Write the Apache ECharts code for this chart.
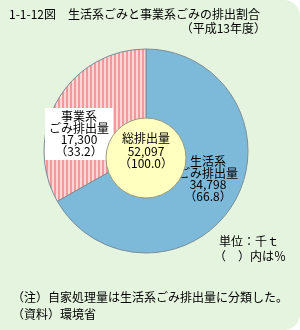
<!DOCTYPE html>
<html><head><meta charset="utf-8">
<script src="https://cdn.jsdelivr.net/npm/echarts@6/dist/echarts.min.js"></script>
<style>html,body{margin:0;padding:0;background:#fff}#c{width:300px;height:330px}</style>
</head><body><div id="c"></div>
<script>
const names = ['生活系', '事業系'];
const values = [34798, 17300];
const shares = ['66.8', '33.2'];
const totalName = '総排出量';
const totalValue = 52097;
const totalShare = '100.0';

const F = '"Noto Sans CJK JP", sans-serif';
const fmt = v => v.toLocaleString('en-US');

const cv = document.createElement('canvas');
cv.width = 4; cv.height = 4;
const cx = cv.getContext('2d');
cx.fillStyle = '#ffd6d6'; cx.fillRect(0,0,4,4);
cx.fillStyle = '#f29a9a'; cx.fillRect(2,0,2,4);

const chart = echarts.init(document.getElementById('c'), null, {renderer:'canvas'});
const labelPos = [[208, 179], [79, 134]];
chart.setOption({
  animation: false,
  graphic: [
    {type:'rect', z:-10, shape:{x:0,y:0,width:300,height:330,r:[0,16,16,0]}, style:{fill:'#e5f4de'}},
    {type:'text', left:9, top:8, style:{text:'1-1-12図　生活系ごみと事業系ごみの排出割合', font:'12px '+F, fill:'#000'}},
    {type:'text', right:34, top:22, style:{text:'（平成13年度）', font:'12px '+F, fill:'#000'}},
    {type:'text', left:219, top:235, style:{text:'単位：千ｔ', font:'12px '+F, fill:'#000'}},
    {type:'text', left:214, top:250, style:{text:'（　）内は％', font:'12px '+F, fill:'#000'}},
    {type:'text', left:12, top:291, style:{text:'（注）自家処理量は生活系ごみ排出量に分類した。', font:'12px '+F, fill:'#000'}},
    {type:'text', left:12, top:308, style:{text:'（資料）環境省', font:'12px '+F, fill:'#000'}}
  ],
  series: [
    {
      type:'pie', center:[146,151], radius:[0,102], startAngle:90, clockwise:true,
      silent:true, labelLine:{show:false},
      itemStyle:{borderColor:'#7a8f9a', borderWidth:1},
      data: names.map((n,i)=>({name:n, value:values[i],
        itemStyle: i===0 ? {color:'#7db9d8'} : {color:{image:cv, repeat:'repeat'}},
        label: i===1 ? {backgroundColor:'#fff', padding:[3,4,3,4]} : {}
      })),
      label:{show:true, position:'inside', fontFamily:F, fontSize:12, lineHeight:11.5, color:'#000', align:'center',
        formatter: p => p.name + '\nごみ排出量\n' + fmt(values[p.dataIndex]) + '\n（' + shares[p.dataIndex] + '）'},
      labelLayout: p => ({x: labelPos[p.dataIndex][0], y: labelPos[p.dataIndex][1], align:'center', verticalAlign:'middle'})
    },
    {
      type:'pie', center:[146,158], radius:[0,40], silent:true, z:5,
      labelLine:{show:false},
      itemStyle:{color:'#ffffc0', borderColor:'#9a9a80', borderWidth:1},
      data:[{name:totalName, value:totalValue}],
      label:{show:true, position:'center', fontFamily:F, fontSize:12, lineHeight:12.5, color:'#000',
        formatter: p => p.name + '\n' + fmt(p.value) + '\n（' + totalShare + '）'},
      labelLayout: () => ({x:146, y:151, align:'center', verticalAlign:'middle'})
    }
  ]
});
</script></body></html>
